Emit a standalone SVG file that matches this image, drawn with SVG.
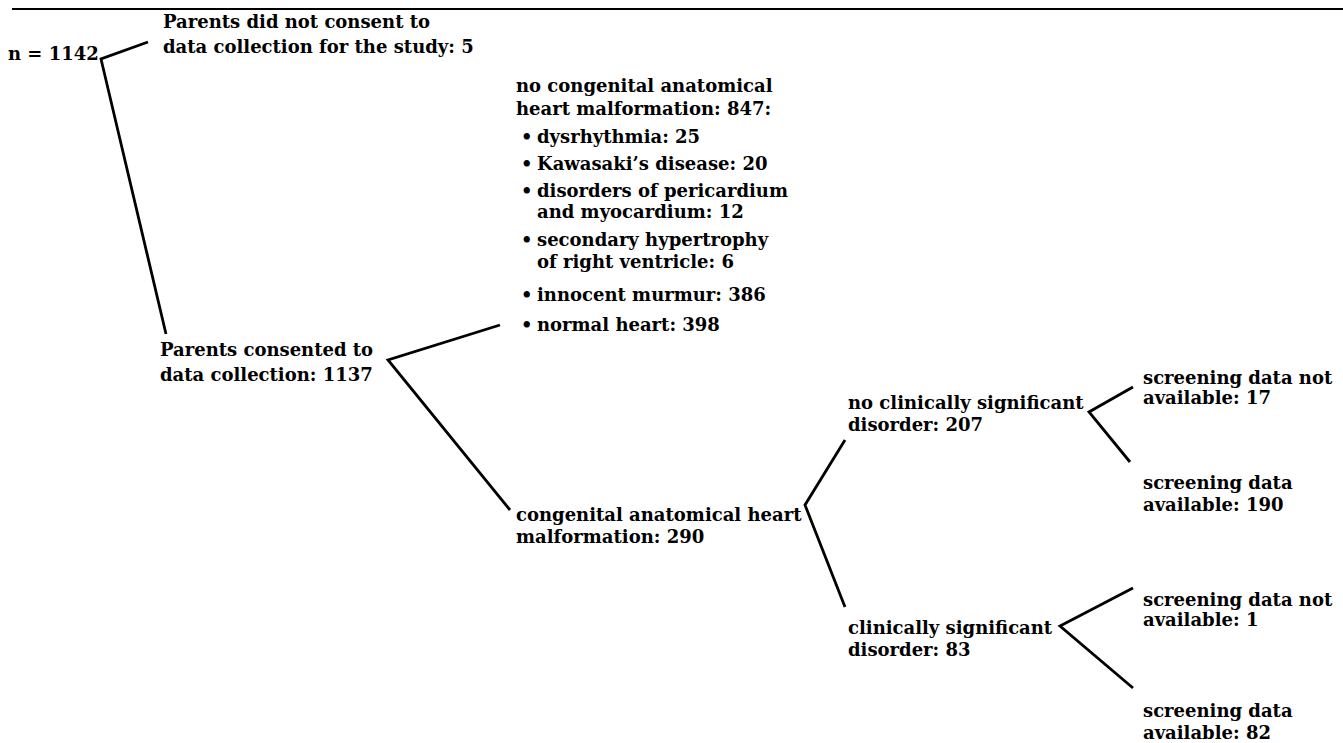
<svg xmlns="http://www.w3.org/2000/svg" width="1343" height="743" viewBox="0 0 1343 743">
<style>
text{font-family:"DejaVu Serif","Liberation Serif",serif;font-weight:bold;font-size:18px;fill:#000}
.c polyline{stroke:#000;stroke-width:2.8;fill:none;stroke-linejoin:miter}
</style>
<rect width="1343" height="743" fill="#fff"/>
<line x1="12" y1="9" x2="1343" y2="9" stroke="#000" stroke-width="2"/>
<g class="c" id="connectors">
<polyline points="148,42 101,59 166,334"/>
<polyline points="500,325 388,360 510,510"/>
<polyline points="845,440 805,505 845,607"/>
<polyline points="1133,387 1089,412 1130,462"/>
<polyline points="1133,588 1060,626 1133,688"/>
</g>
<g id="root"><text x="8" y="60">n = 1142</text></g>
<g id="noconsent"><text x="163" y="28">Parents did not consent to</text><text x="163" y="53">data collection for the study: 5</text></g>
<g id="consent"><text x="160" y="356">Parents consented to</text><text x="160" y="381">data collection: 1137</text></g>
<g id="nomalf">
<text x="516" y="92">no congenital anatomical</text>
<text x="516" y="115">heart malformation: 847:</text>
<text x="521" y="143">•</text><text x="537" y="143">dysrhythmia: 25</text>
<text x="521" y="170">•</text><text x="537" y="170">Kawasaki’s disease: 20</text>
<text x="521" y="197">•</text><text x="537" y="197">disorders of pericardium</text>
<text x="537" y="218">and myocardium: 12</text>
<text x="521" y="246">•</text><text x="537" y="246">secondary hypertrophy</text>
<text x="537" y="268">of right ventricle: 6</text>
<text x="521" y="301">•</text><text x="537" y="301">innocent murmur: 386</text>
<text x="521" y="331">•</text><text x="537" y="331">normal heart: 398</text>
</g>
<g id="malf"><text x="516" y="521">congenital anatomical heart</text><text x="516" y="543">malformation: 290</text></g>
<g id="nosig"><text x="848" y="409">no clinically significant</text><text x="848" y="431">disorder: 207</text></g>
<g id="sig"><text x="848" y="634">clinically significant</text><text x="848" y="656">disorder: 83</text></g>
<g id="s1"><text x="1143" y="384">screening data not</text><text x="1143" y="404">available: 17</text></g>
<g id="s2"><text x="1143" y="489">screening data</text><text x="1143" y="511">available: 190</text></g>
<g id="s3"><text x="1143" y="606">screening data not</text><text x="1143" y="626">available: 1</text></g>
<g id="s4"><text x="1143" y="717">screening data</text><text x="1143" y="739">available: 82</text></g>
</svg>
